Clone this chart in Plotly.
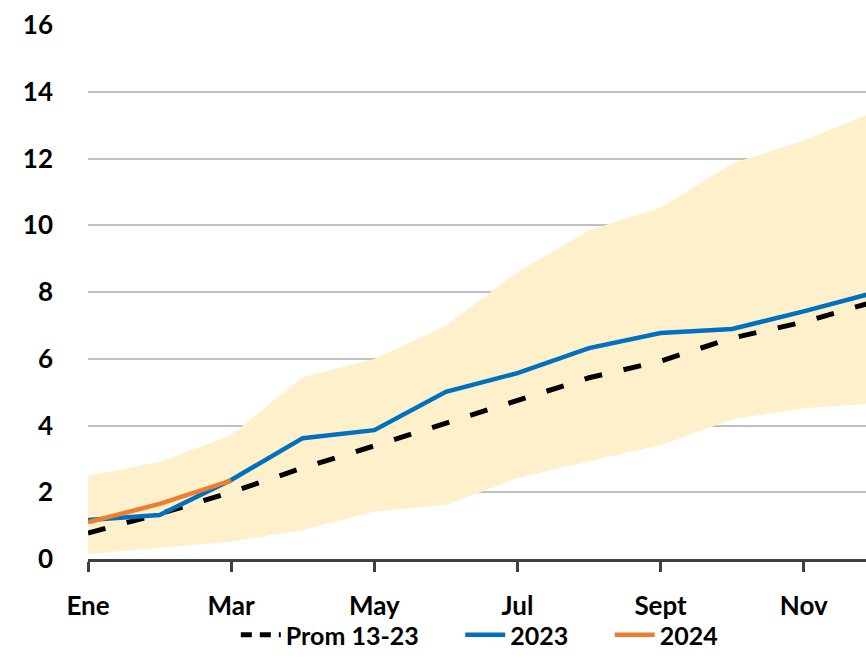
import plotly.graph_objects as go

months = ["Ene", "Feb", "Mar", "Abr", "May", "Jun", "Jul", "Ago", "Sept", "Oct", "Nov", "Dic"]
band_low = [0.15, 0.33, 0.52, 0.87, 1.42, 1.62, 2.42, 2.93, 3.41, 4.19, 4.52, 4.66]
band_high = [2.49, 2.91, 3.71, 5.45, 5.99, 7.0, 8.6, 9.85, 10.53, 11.85, 12.54, 13.41]
prom = [0.78, 1.35, 2.0, 2.73, 3.39, 4.07, 4.74, 5.43, 5.93, 6.62, 7.1, 7.72]
y2023 = [1.17, 1.32, 2.37, 3.62, 3.86, 5.01, 5.57, 6.32, 6.77, 6.89, 7.42, 7.99]
y2024 = [1.1, 1.65, 2.35]
tick_months = ["Ene", "Mar", "May", "Jul", "Sept", "Nov"]
series_names = ["Prom 13-23", "2023", "2024"]

xi = list(range(len(months)))
font = "Lato, 'Open Sans', sans-serif"
band_color = "#FFF0CC"
pad = "\u00a0" * 6

fig = go.Figure()
fig.add_trace(go.Scatter(x=xi, y=band_low, mode="lines", line=dict(width=0, color=band_color),
                         showlegend=False, hoverinfo="skip"))
fig.add_trace(go.Scatter(x=xi, y=band_high, mode="lines", line=dict(width=0, color=band_color),
                         fill="tonexty", fillcolor=band_color, showlegend=False, hoverinfo="skip"))
fig.add_trace(go.Scatter(x=xi, y=prom, mode="lines", name=series_names[0], showlegend=False,
                         legendgroup="prom",
                         line=dict(color="black", width=5, dash="18px,22px")))
# legend entry for the average line, with a shorter dash so two dashes show
fig.add_trace(go.Scatter(x=[None], y=[None], mode="lines", name=series_names[0] + pad,
                         legendgroup="prom",
                         line=dict(color="black", width=5, dash="11px,8px")))
fig.add_trace(go.Scatter(x=xi, y=y2023, mode="lines", name=series_names[1] + pad,
                         line=dict(color="#0070C0", width=4.5)))
fig.add_trace(go.Scatter(x=xi[:len(y2024)], y=y2024, mode="lines", name=series_names[2],
                         line=dict(color="#ED7D31", width=4.5)))

tickvals = [months.index(m) for m in tick_months]
tfont = dict(family=font, size=26, color="black", weight="bold")

fig.update_layout(
    width=866, height=658,
    margin=dict(l=88, r=0, t=25, b=99, autoexpand=False),
    plot_bgcolor="white", paper_bgcolor="white",
    font=dict(family=font, size=26, color="black"),
    showlegend=True,
    legend=dict(orientation="h", x=0.503, xanchor="center", y=-99 / 534, yanchor="bottom",
                traceorder="normal", font=dict(family=font, size=25, color="black", weight="bold"),
                itemwidth=40, tracegroupgap=0, bgcolor="rgba(0,0,0,0)"),
    xaxis=dict(range=[0, 10.87], tickvals=tickvals, ticktext=tick_months, automargin=False,
               showgrid=False, zeroline=False, showline=True, linecolor="#404040", linewidth=3,
               ticks="outside", ticklen=10, tickwidth=3, tickcolor="#404040",
               ticklabelstandoff=12, tickfont=tfont),
    yaxis=dict(range=[0, 16], dtick=2, showgrid=True, gridcolor="#C0C0C0", gridwidth=2,
               automargin=False, zeroline=False, showline=False, ticks="",
               ticklabelstandoff=34, tickfont=tfont),
)

fig.write_html(
    "out.html",
    config={"displayModeBar": False},
    post_script="document.body.style.margin='0';document.body.style.overflow='hidden';",
)
